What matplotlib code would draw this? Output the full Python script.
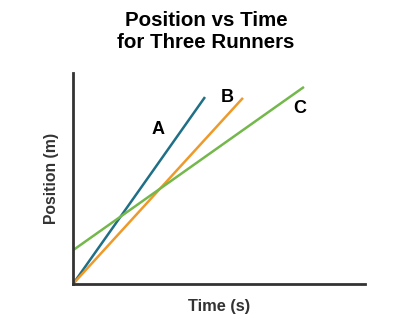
import matplotlib
matplotlib.use("Agg")
import matplotlib.pyplot as plt

plt.rcParams['font.family'] = ['Liberation Sans', 'DejaVu Sans']

# line endpoints (time, position)
runners = ['A', 'B', 'C']
x_start = [0, 0, 0]
y_start = [0, 0, 1.6]
x_end = [4.52, 5.82, 7.91]
y_end = [8.86, 8.82, 9.34]
colors = ['#1f6f87', '#ee9a2a', '#74b84c']
label_x = [2.91, 5.27, 7.77]
label_y = [7.30, 8.86, 8.34]

fig = plt.figure(figsize=(4.13, 3.31), dpi=100)
ax = fig.add_axes([73/413, 1-284/331, 292/413, 211/331])

for i, r in enumerate(runners):
    ax.plot([x_start[i], x_end[i]], [y_start[i], y_end[i]], color=colors[i], lw=1.8, solid_capstyle='butt')
    ax.text(label_x[i], label_y[i], r, fontsize=13, fontweight='bold', ha='center', va='center')

ax.set_xlim(0, 10)
ax.set_ylim(0, 10)
ax.set_xticks([])
ax.set_yticks([])
for s in ['top', 'right']:
    ax.spines[s].set_visible(False)
for s in ['left', 'bottom']:
    ax.spines[s].set_color('#333333')
    ax.spines[s].set_linewidth(2)

ax.set_xlabel('Time (s)', fontsize=11.8, fontweight='bold', color='#333333', labelpad=11)
ax.set_ylabel('Position (m)', fontsize=11.3, fontweight='bold', color='#333333', labelpad=10)
fig.text(206/413, 1-31.5/331, 'Position vs Time\nfor Three Runners', ha='center', va='center',
         fontsize=14.8, fontweight='bold', linespacing=1.2)

fig.savefig('out.png', dpi=100)
